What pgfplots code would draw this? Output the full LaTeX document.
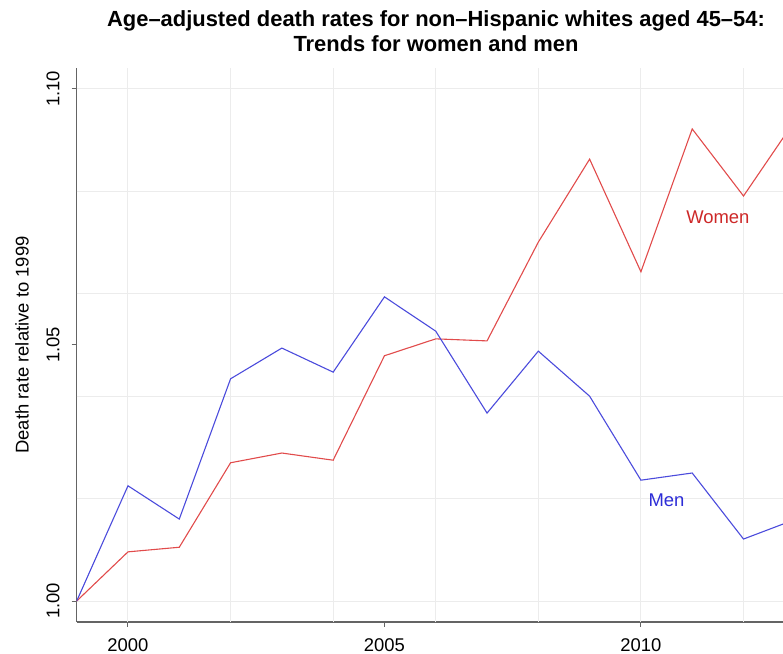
\documentclass[border=0pt]{standalone}
\usepackage{fontspec}
\setmainfont{Liberation Sans}
\usepackage{pgfplots}
\pgfplotsset{compat=1.18}
\definecolor{axgray}{RGB}{100,100,100}
\definecolor{gridgray}{RGB}{236,236,236}
\definecolor{wline}{RGB}{225,75,75}
\definecolor{mline}{RGB}{75,75,220}
\definecolor{wtext}{RGB}{205,40,40}
\definecolor{mtext}{RGB}{45,45,215}
\newcommand{\basefont}{\fontsize{18.5}{20}\selectfont}
\begin{document}
\begin{tikzpicture}
\useasboundingbox (-76.7bp,-32bp) rectangle (706.3bp,622bp);
\begin{axis}[at={(0,0)}, anchor=south west,
  scale only axis, width=706.3bp, height=554bp,
  xmin=1999, xmax=2012.77, ymin=0.9959, ymax=1.1041,
  axis x line*=bottom, axis y line*=left,
  axis line style={draw=axgray, line width=1.2bp},
  xtick={2000,2005,2010}, xticklabels={2000,2005,2010},
  ytick={1,1.05,1.1}, yticklabels={1.00,1.05,1.10},
  tick align=outside, major tick length=5bp,
  major tick style={draw=axgray, line width=1bp},
  tick label style={font=\basefont},
  /pgf/number format/assume math mode=true,
  xticklabel style={anchor=north, inner sep=0pt, yshift=-11bp},
  yticklabel style={rotate=90, anchor=south, inner sep=0pt, yshift=12bp},
  every axis y label/.style={at={(axis description cs:-0.0774,0.5)}, rotate=90, anchor=center, font=\basefont},
  ylabel={Death rate relative to 1999},
  clip=true,
]
\pgfplotsinvokeforeach{2000,2002,2004,2006,2008,2010,2012}{
  \draw[gridgray, line width=1bp] (axis cs:#1,0.9959) -- (axis cs:#1,1.1041);}
\pgfplotsinvokeforeach{1,1.02,1.04,1.06,1.08,1.1}{
  \draw[gridgray, line width=1bp] (axis cs:1999,#1) -- (axis cs:2012.77,#1);}
\addplot[wline, line width=1.1bp] coordinates {(1999,1.000) (2000,1.0096) (2001,1.0105) (2002,1.027) (2003,1.0289) (2004,1.0275) (2005,1.0479) (2006,1.0512) (2007,1.0508) (2008,1.0701) (2009,1.0863) (2010,1.0643) (2011,1.0922) (2012,1.0791) (2013,1.0938)};
\addplot[mline, line width=1.1bp] coordinates {(1999,1.000) (2000,1.0225) (2001,1.016) (2002,1.0434) (2003,1.0494) (2004,1.0447) (2005,1.0594) (2006,1.0527) (2007,1.0367) (2008,1.0488) (2009,1.040) (2010,1.0236) (2011,1.025) (2012,1.0121) (2013,1.0159)};
\node[wtext, font=\basefont] at (axis cs:2011.5,1.075) {Women};
\node[mtext, font=\basefont] at (axis cs:2010.5,1.0197) {Men};
\end{axis}
\node[anchor=base, font=\bfseries\fontsize{22}{26}\selectfont] at (359.3bp,595bp) {Age–adjusted death rates for non–Hispanic whites aged 45–54:};
\node[anchor=base, font=\bfseries\fontsize{22}{26}\selectfont] at (359.3bp,570bp) {Trends for women and men};
\end{tikzpicture}
\end{document}
